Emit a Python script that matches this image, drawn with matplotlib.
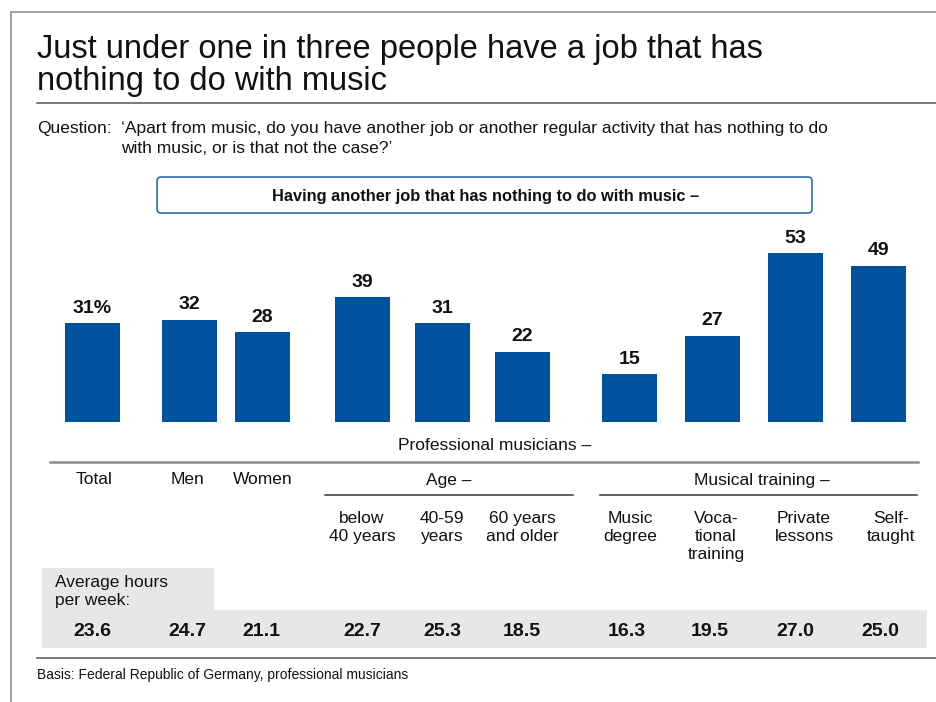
#!/usr/bin/env python3
"""
Recria o gráfico "Just under one in three people have a job that has nothing
to do with music" (barras + tabela de horas médias por semana).
"""
import matplotlib

matplotlib.use("Agg")
import matplotlib.pyplot as plt  # noqa: E402
from matplotlib.patches import FancyBboxPatch, Polygon  # noqa: E402

plt.rcParams["font.family"] = ["Liberation Sans", "DejaVu Sans"]

# ── Dados ────────────────────────────────────────────────────────────────────
categories = ["Total", "Men", "Women", "below\n40 years", "40-59\nyears",
              "60 years\nand older", "Music\ndegree", "Voca-\ntional\ntraining",
              "Private\nlessons", "Self-\ntaught"]
share_pct = [31, 32, 28, 39, 31, 22, 15, 27, 53, 49]
hours_per_week = [23.6, 24.7, 21.1, 22.7, 25.3, 18.5, 16.3, 19.5, 27.0, 25.0]

TITLE = "Just under one in three people have a job that has\nnothing to do with music"
QUESTION = ("‘Apart from music, do you have another job or another regular activity "
            "that has nothing to do\nwith music, or is that not the case?’")
HEADER = "Having another job that has nothing to do with music –"
FOOTNOTE = "Basis: Federal Republic of Germany, professional musicians"

# ── Layout (pixels, figura 936x702) ─────────────────────────────────────────
W, H = 936, 702
BAR_X = [92.5, 189.5, 262.5, 362.5, 442.5, 522.5, 629.5, 712.5, 795.5, 878.5]
LABEL_X = [94, 187, 263, 362, 442, 522, 630, 716, 804, 891]
VALUE_X = [92, 187, 261, 362, 442, 522, 627, 710, 795, 880]
BAR_W = 55
BASELINE = 421.5
PX_PER_UNIT = 3.18
BLUE = "#00529f"
GREY_BAND = "#e6e7e9"
TXT = "#111111"
FS = 12.5

fig = plt.figure(figsize=(W / 100, H / 100), dpi=100)

# eixo de fundo em coordenadas de pixel (y para baixo)
bg = fig.add_axes([0, 0, 1, 1])
bg.set_xlim(0, W)
bg.set_ylim(H, 0)
bg.axis("off")

# moldura
bg.plot([11, W], [12, 12], color="#9a9a9a", lw=1.3)
bg.plot([11, 11], [12, H], color="#9a9a9a", lw=1.3)

bg.text(37, 34, TITLE, fontsize=23.5, va="top", ha="left", color=TXT, linespacing=1.04)
bg.plot([37, W], [103, 103], color="#555555", lw=1.1)

bg.text(37, 129, "Question:", fontsize=FS, va="center", color=TXT)
bg.text(121, 120.5, QUESTION, fontsize=FS, va="top", color=TXT, linespacing=1.42)

box = FancyBboxPatch((157, 177), 655, 36, boxstyle="round,pad=0,rounding_size=4",
                     fc="white", ec="#1d5fa9", lw=1.1)
bg.add_patch(box)
bg.text(486, 196, HEADER, fontsize=11.8, fontweight="bold", ha="center", va="center",
        color=TXT)

# ── Barras ──────────────────────────────────────────────────────────────────
top_px = 200
ax = fig.add_axes([0, (H - BASELINE) / H, 1, (BASELINE - top_px) / H])
ax.set_xlim(0, W)
ax.set_ylim(0, (BASELINE - top_px) / PX_PER_UNIT)
ax.axis("off")
ax.bar(BAR_X, share_pct, width=BAR_W, color=BLUE)
for i, (x, v) in enumerate(zip(BAR_X, share_pct)):
    lbl = f"{v}%" if i == 0 else f"{v}"
    ax.annotate(lbl, (x, v), xytext=(0, 4.5), textcoords="offset points",
                ha="center", va="bottom", fontsize=14, fontweight="bold", color=TXT)

# ── Rótulos de categorias ───────────────────────────────────────────────────
bg.text(495, 446, "Professional musicians –", fontsize=FS, ha="center", va="center",
        color=TXT)
bg.plot([50, 918], [462, 462], color="#8a8a8a", lw=1.8)

for x, lbl in zip(LABEL_X[:3], categories[:3]):
    bg.text(x, 480, lbl, fontsize=FS, ha="center", va="center", color=TXT)
bg.text(449, 480, "Age –", fontsize=FS, ha="center", va="center", color=TXT)
bg.text(762, 480, "Musical training –", fontsize=FS, ha="center", va="center", color=TXT)
bg.plot([325, 573], [495, 495], color="#333333", lw=1.1)
bg.plot([600, 917], [495, 495], color="#333333", lw=1.1)
for x, lbl in zip(LABEL_X[3:], categories[3:]):
    bg.text(x, 511, lbl, fontsize=FS, ha="center", va="top", color=TXT,
            linespacing=1.24)

# ── Tabela de horas ─────────────────────────────────────────────────────────
band = Polygon([(42, 568), (214, 568), (214, 610), (927, 610), (927, 648), (42, 648)],
               closed=True, fc=GREY_BAND, ec="none")
bg.add_patch(band)
bg.text(55, 575, "Average hours\nper week:", fontsize=FS, va="top", color=TXT,
        linespacing=1.24)
for x, v in zip(VALUE_X, hours_per_week):
    bg.text(x, 631, f"{v:.1f}", fontsize=14, fontweight="bold", ha="center",
            va="center", color=TXT)

bg.plot([37, W], [658, 658], color="#555555", lw=1.1)
bg.text(37, 675, FOOTNOTE, fontsize=10, va="center", color=TXT)

fig.savefig("out.png", dpi=100)
